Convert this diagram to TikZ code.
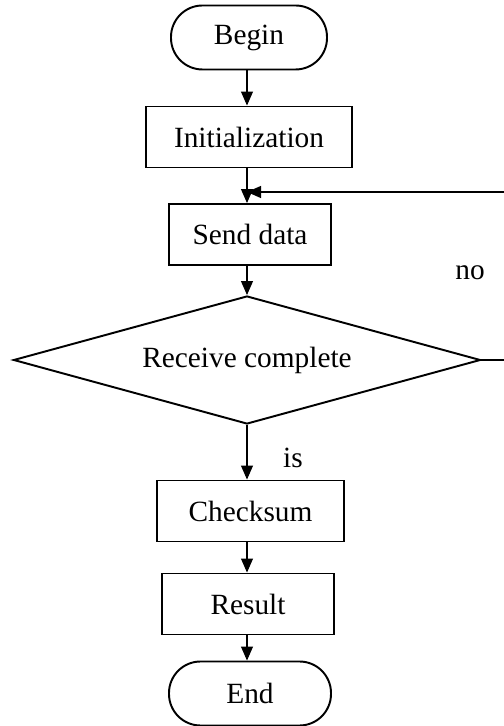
\documentclass[tikz,border=0pt]{standalone}
\usepackage{fontspec}
\setmainfont{Liberation Serif}
\usetikzlibrary{shapes.geometric,arrows.meta}

\tikzset{
  box/.style={draw,line width=1.1pt,minimum width=#1,minimum height=1.22cm,inner sep=0pt},
  term/.style={draw,line width=1.1pt,rounded corners=0.63cm,minimum width=#1,minimum height=1.28cm,inner sep=0pt},
  flow/.style={line width=0.6pt,-{Triangle[length=0.28cm,width=0.24cm]}}
}

\begin{document}
\begin{tikzpicture}[font=\fontsize{16.7}{20}\selectfont]
	\useasboundingbox (0,0) rectangle (10.08,14.52);
	% boxes
	\node[term=3.12cm] (begin) at (4.98,13.77) {Begin};
	\node[box=4.12cm] (init) at (4.98,11.78) {Initialization};
	\node[box=3.24cm] (send) at (5.0,9.83) {Send data};
	\node[draw,line width=1.1pt,diamond,aspect=3.65,minimum width=9.34cm,minimum height=2.56cm,inner sep=0pt] (dec) at (4.94,7.32) {Receive complete};
	\node[box=3.74cm] (check) at (5.01,4.30) {Checksum};
	\node[box=3.44cm] (result) at (4.96,2.44) {Result};
	\node[term=3.24cm] (end) at (5.0,0.65) {End};
	% connectors
	\coordinate (back) at (10.08,10.68);
	\coordinate (out) at (10.08,7.32);
	\coordinate (join) at (4.94,10.68);
	\draw[flow] (begin.south -| dec.north) -- (init.north -| dec.north);
	\draw[flow] (init.south -| dec.north) -- (send.north -| dec.north);
	\draw[flow] (send.south -| dec.north) -- (dec.north);
	\draw[flow] (dec.south) -- (check.north -| dec.south);
	\draw[flow] (check.south -| dec.south) -- (result.north -| dec.south);
	\draw[flow] (result.south -| dec.south) -- (end.north -| dec.south);
	\draw[line width=0.6pt] (dec.east) -- (out);
	\draw[flow] (back) -- (join);
	% labels
	\node (no) at (9.4,9.06) {no};
	\node (is) at (5.86,5.36) {is};
\end{tikzpicture}
\end{document}
